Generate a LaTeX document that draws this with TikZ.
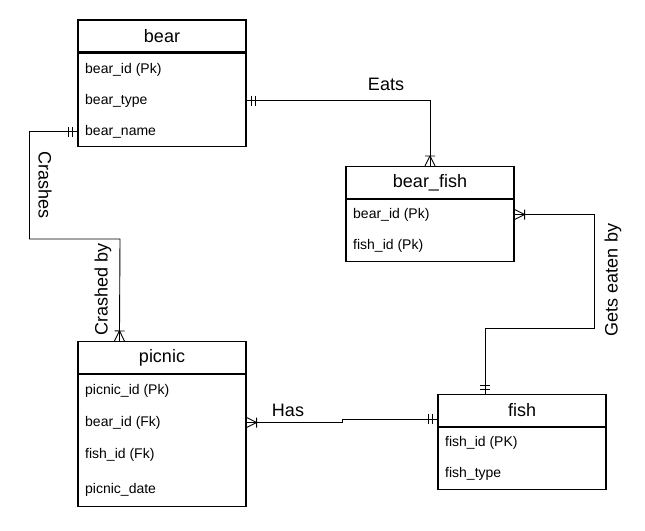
\documentclass[tikz,border=0pt]{standalone}
\usepackage{fontspec}
\setmainfont{Liberation Sans}
\usetikzlibrary{positioning}

% ER end marks: mandatory one, one or many
\pgfarrowsdeclare{ermone}{ermone}
{\pgfarrowsleftextend{-10pt}\pgfarrowsrightextend{0pt}}
{
  \pgfsetdash{}{0pt}
  \pgfpathmoveto{\pgfpoint{-5pt}{-5pt}}\pgfpathlineto{\pgfpoint{-5pt}{5pt}}
  \pgfpathmoveto{\pgfpoint{-9pt}{-5pt}}\pgfpathlineto{\pgfpoint{-9pt}{5pt}}
  \pgfusepathqstroke
}
\pgfarrowsdeclare{ermany}{ermany}
{\pgfarrowsleftextend{-10pt}\pgfarrowsrightextend{0pt}}
{
  \pgfsetdash{}{0pt}
  \pgfpathmoveto{\pgfpoint{-10pt}{0pt}}\pgfpathlineto{\pgfpoint{0pt}{5pt}}
  \pgfpathmoveto{\pgfpoint{-10pt}{0pt}}\pgfpathlineto{\pgfpoint{0pt}{-5pt}}
  \pgfpathmoveto{\pgfpoint{-10pt}{-5pt}}\pgfpathlineto{\pgfpoint{-10pt}{5pt}}
  \pgfusepathqstroke
}

\begin{document}
\begin{tikzpicture}
[
x=1pt, y=-1pt,
TableHead/.style={rectangle, draw=black, line width=1.1pt, fill=white, minimum width=168pt, minimum height=32pt, inner sep=0pt, font=\fontsize{18}{20}\selectfont},
TableBody/.style={rectangle, draw=black, line width=1.1pt, fill=white, minimum width=168pt, inner sep=0pt, below=0pt of #1},
RowText/.style={anchor=west, inner sep=0pt, yshift=-1.5pt, font=\fontsize{14}{16}\selectfont},
RelLine/.style={draw=black, line width=0.9pt},
RelText/.style={inner sep=0pt, font=\fontsize{18}{20}\selectfont},
]

\useasboundingbox (0,0) rectangle (645,530);

% tables
\node[TableHead] (bear) at (162,36) {bear};
\node[TableBody=bear, minimum height=93pt] (bearbody) {};
\node[RowText] (bearid) at (85,68) {bear\_id (Pk)};
\node[RowText] (beartype) at (85,99) {bear\_type};
\node[RowText] (bearname) at (85,130) {bear\_name};

\node[TableHead] (bearfish) at (430,182.5) {bear\_fish};
\node[TableBody=bearfish, minimum height=62pt] (bearfishbody) {};
\node[RowText] (bfbearid) at (353,213) {bear\_id (Pk)};
\node[RowText] (bffishid) at (353,244) {fish\_id (Pk)};

\node[TableHead] (picnic) at (162,357.5) {picnic};
\node[TableBody=picnic, minimum height=132pt] (picnicbody) {};
\node[RowText] (picnicid) at (85,389) {picnic\_id (Pk)};
\node[RowText] (picbearid) at (85,421) {bear\_id (Fk)};
\node[RowText] (picfishid) at (85,453) {fish\_id (Fk)};
\node[RowText] (picdate) at (85,488) {picnic\_date};

\node[TableHead] (fish) at (522,410.5) {fish};
\node[TableBody=fish, minimum height=62pt] (fishbody) {};
\node[RowText] (fishid) at (445,441) {fish\_id (PK)};
\node[RowText] (fishtype) at (445,472) {fish\_type};

% relations
\coordinate (crashbend) at (120,239);
\coordinate (eatbend) at (594,328);
\coordinate (hasbend) at (342,419);

\draw[RelLine, ermone-ermany] (bear.east |- beartype) -| (bearfish.north);
\draw[RelLine, ermone-ermany] (bear.west |- bearname) -- ++(-48,0) |- (crashbend) -- ([xshift=42pt]picnic.north west);
\draw[RelLine, ermone-ermany] ([xshift=48pt]fish.north west) |- (eatbend) |- (bearfish.east |- bfbearid);
\draw[RelLine, ermany-ermone] (picnic.east |- picbearid) -| (hasbend) -- (fish.west |- hasbend);

\node[RelText] (eats) at (386,84) {Eats};
\node[RelText, rotate=-90] (crashes) at (45,185) {Crashes};
\node[RelText, rotate=90] (crashedby) at (103,289) {Crashed by};
\node[RelText, rotate=90] (geteaten) at (613,280) {Gets eaten by};
\node[RelText] (has) at (288,410) {Has};

\end{tikzpicture}
\end{document}
